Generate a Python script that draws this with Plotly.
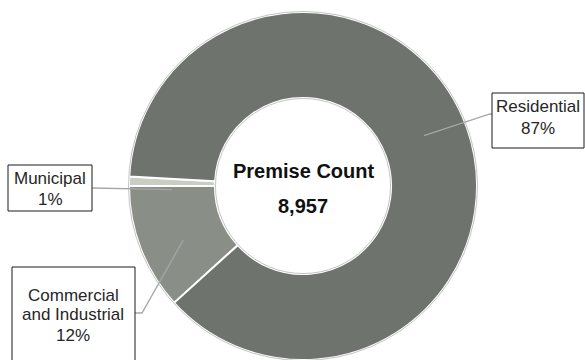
import math
import plotly.graph_objects as go

# ---- data ----
categories = ["Municipal", "Commercial and Industrial", "Residential"]
counts = [77, 1050, 7830]
percent_labels = ["1%", "12%", "87%"]
colors = ["#c9cec4", "#898e87", "#6e736e"]
center_title = "Premise Count"
center_value = "8,957"

W, H = 585, 360
CX, CY, R = 303, 186, 174
HOLE = 0.506


def px(x):
    return x / W


def py(y):
    return 1 - y / H


fig = go.Figure()
fig.add_trace(go.Pie(
    labels=categories,
    values=counts,
    sort=False,
    direction="counterclockwise",
    rotation=270,
    hole=HOLE,
    marker=dict(colors=colors, line=dict(color="white", width=2)),
    textinfo="none",
    hoverinfo="skip",
    showlegend=False,
    domain=dict(x=[px(CX - R), px(CX + R)], y=[py(CY + R), py(CY - R)]),
))

shapes = []
# outer and inner thin grey outlines
for rad in (R + 0.5, R * HOLE - 0.5):
    shapes.append(dict(type="circle", xref="paper", yref="paper",
                       x0=px(CX - rad), x1=px(CX + rad), y0=py(CY + rad), y1=py(CY - rad),
                       line=dict(color="#c4c4c4", width=1), layer="above"))

# leader line start points from slice mid angles
total = sum(counts)
rm = (R + R * HOLE) / 2
starts = {}
cum = 0
for cat, v in zip(categories, counts):
    a = math.radians(180 + 360 * (cum + v / 2) / total)
    starts[cat] = (CX + rm * math.cos(a), CY - rm * math.sin(a))
    cum += v

leaders = {
    "Residential": [(490, 114), (492, 114)],
    "Commercial and Industrial": [(142, 313), (135, 313)],
    "Municipal": [(92, 188)],
}
for cat, pts in leaders.items():
    path_pts = [starts[cat]] + pts
    d = "M " + " L ".join(f"{px(x)},{py(y)}" for x, y in path_pts)
    shapes.append(dict(type="path", xref="paper", yref="paper", path=d,
                       line=dict(color="#a6a6a6", width=1.3), layer="above"))

# label boxes
boxes = {
    "Residential": (492, 93, 584, 148),
    "Municipal": (8, 165, 92, 211),
    "Commercial and Industrial": (12, 267, 135, 365),
}
for cat, (x0, y0, x1, y1) in boxes.items():
    shapes.append(dict(type="rect", xref="paper", yref="paper",
                       x0=px(x0), x1=px(x1), y0=py(y1), y1=py(y0),
                       line=dict(color="#1a1a1a", width=1), fillcolor="white", layer="above"))

fig.update_layout(shapes=shapes)

font_lbl = dict(family="Arial, Liberation Sans, sans-serif", size=17, color="#262626")
label_lines = {
    "Residential": (538, [("Residential", 106), (percent_labels[2], 128)]),
    "Municipal": (50, [("Municipal", 178), (percent_labels[0], 199)]),
    "Commercial and Industrial": (73, [("Commercial", 295), ("and Industrial", 314), (percent_labels[1], 335)]),
}
annotations = []
for cat, (x, lines) in label_lines.items():
    for txt, y in lines:
        annotations.append(dict(x=px(x), y=py(y), xref="paper", yref="paper", text=txt,
                                showarrow=False, xanchor="center", yanchor="middle", font=font_lbl))

font_c = dict(family="Arial, Liberation Sans, sans-serif", size=20, color="#111111")
annotations.append(dict(x=px(CX), y=py(171), xref="paper", yref="paper", text=f"<b>{center_title}</b>",
                        showarrow=False, xanchor="center", yanchor="middle", font=font_c))
annotations.append(dict(x=px(CX), y=py(206), xref="paper", yref="paper", text=f"<b>{center_value}</b>",
                        showarrow=False, xanchor="center", yanchor="middle", font=font_c))

fig.update_layout(
    annotations=annotations,
    width=W, height=H,
    margin=dict(l=0, r=0, t=0, b=0),
    paper_bgcolor="white",
    plot_bgcolor="white",
)

fig.write_html("out.html")
